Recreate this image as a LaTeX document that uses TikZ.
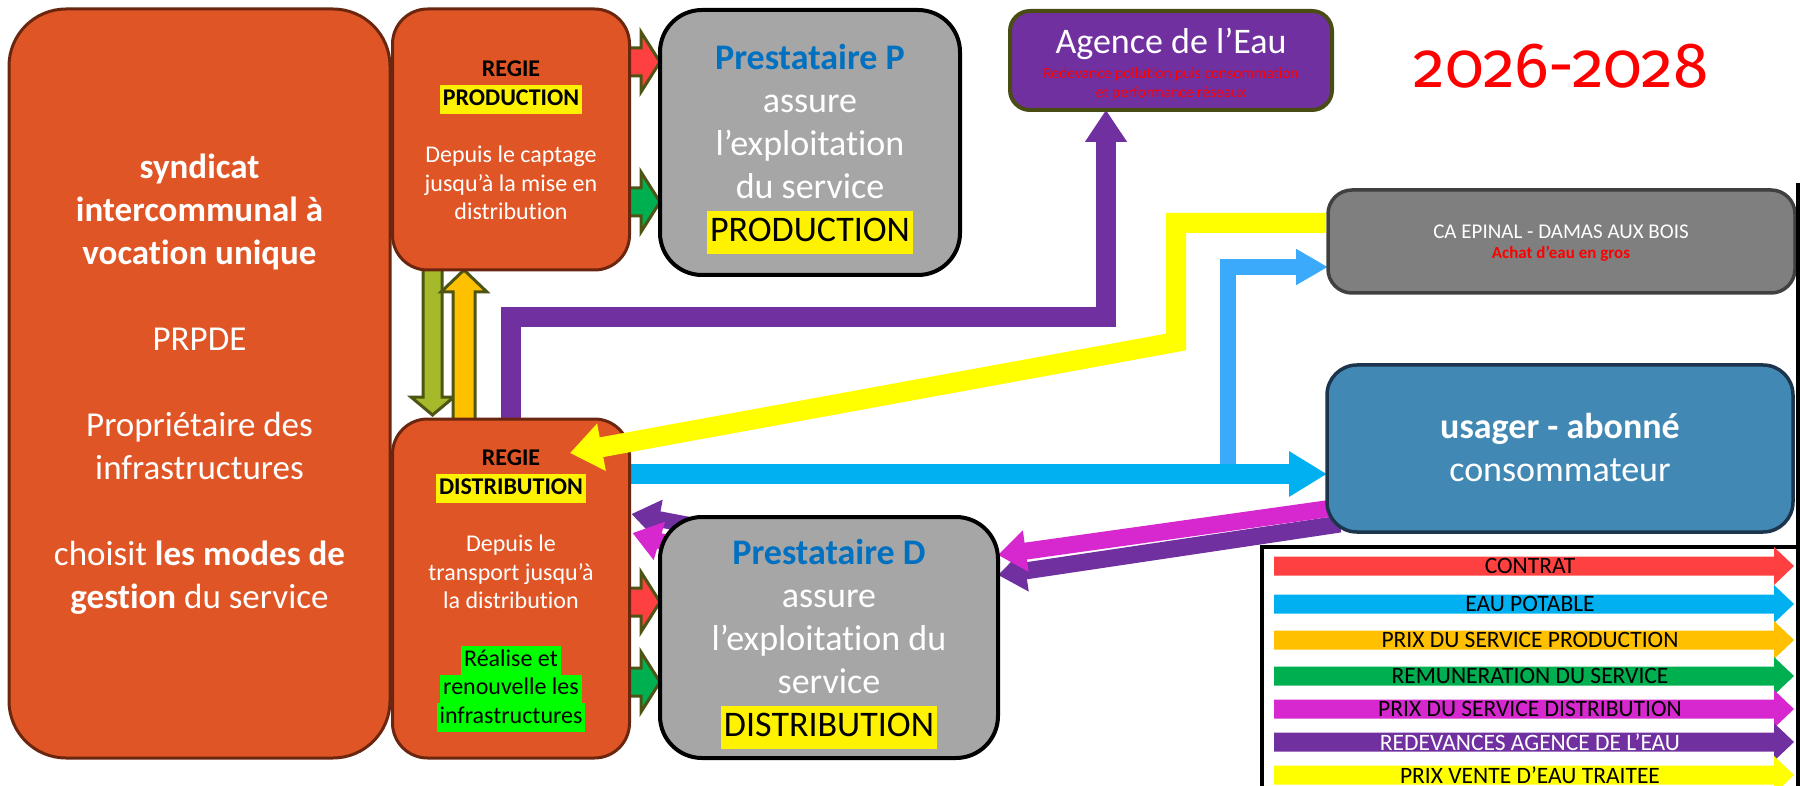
\documentclass[tikz,border=0pt]{standalone}
\usepackage{fontspec}
\setmainfont{Carlito}[Ligatures={TeX,NoCommon}]
\newfontfamily\titlefont{Fira Sans}[Numbers=OldStyle]
\usetikzlibrary{arrows.meta,calc}
\pgfdeclarelayer{bg}
\pgfsetlayers{bg,main}
\definecolor{corange}{RGB}{224,85,38}
\definecolor{cbrown}{RGB}{106,38,14}
\definecolor{cgray}{RGB}{166,166,166}
\definecolor{cpblue}{RGB}{0,112,192}
\definecolor{cpurple}{RGB}{112,48,160}
\definecolor{cagbord}{RGB}{73,77,20}
\definecolor{cca}{RGB}{127,127,127}
\definecolor{ccabord}{RGB}{64,64,64}
\definecolor{cusager}{RGB}{65,137,180}
\definecolor{cusbord}{RGB}{28,52,76}
\definecolor{cred}{RGB}{255,64,64}
\definecolor{cgreen}{RGB}{0,176,80}
\definecolor{ccyan}{RGB}{0,176,240}
\definecolor{clblue}{RGB}{60,170,250}
\definecolor{cyel}{RGB}{255,255,0}
\definecolor{corg}{RGB}{255,192,0}
\definecolor{cmag}{RGB}{214,40,206}
\definecolor{colfill}{RGB}{166,185,42}
\definecolor{coldark}{RGB}{78,84,20}
\definecolor{ctxtred}{RGB}{255,0,0}
\newcommand\hlt[2]{{\setlength{\fboxsep}{1pt}\colorbox{#1}{\hspace{2pt}\rule[\dimexpr-0.3\baselineskip+1pt\relax]{0pt}{\dimexpr\baselineskip-2pt\relax}#2\hspace{2pt}}}}
\newcommand\blockarr[6]{%
  \coordinate (bas) at #2;
  \coordinate (bae) at #3;
  \coordinate (bah) at ($(bae)!#6!(bas)$);
  \path[#1] ($(bas)!#4!90:(bae)$) -- ($(bah)!#4!-90:(bas)$) -- ($(bah)!#5!-90:(bas)$) -- (bae)
    -- ($(bah)!#5!90:(bas)$) -- ($(bah)!#4!90:(bas)$) -- ($(bas)!#4!-90:(bae)$) -- cycle;
}
\begin{document}
\begin{tikzpicture}[x=1pt,y=-1pt,
  box/.style={rectangle,inner sep=0pt,outer sep=0pt},
  orangebox/.style={box,fill=corange,draw=cbrown,line width=3pt},
  graybox/.style={box,fill=cgray,draw=black,line width=4pt,rounded corners=42pt},
  lbl/.style={inner sep=0pt,outer sep=0pt,align=center},
  outl/.style={fill=#1,draw=coldark,line width=3pt,line join=miter},
  flowline/.style={line width=#1,line cap=butt,line join=miter},
  frameline/.style={draw=black,line width=3.5pt},
  legfont/.style={font=\fontsize{23.5}{26}\selectfont}
]
\useasboundingbox (0,0) rectangle (1800,786);

% ---------- boxes
\node[orangebox,rounded corners=57pt,minimum width=381pt,minimum height=749pt] (synd) at (199.5,383.5) {};
\node[orangebox,rounded corners=35pt,minimum width=237pt,minimum height=261pt] (rp) at (511,139.5) {};
\node[orangebox,rounded corners=35pt,minimum width=237pt,minimum height=339pt] (rd) at (511,588.5) {};
\node[graybox,minimum width=300pt,minimum height=265pt] (pp) at (810,142.5) {};
\node[graybox,minimum width=338pt,minimum height=241pt] (pd) at (829,637.5) {};
\node[box,fill=cpurple,draw=cagbord,line width=4pt,rounded corners=20pt,minimum width=322pt,minimum height=99pt] (ag) at (1171,60.5) {};
\node[box,fill=cca,draw=ccabord,line width=3.5pt,rounded corners=24pt,minimum width=467pt,minimum height=103pt] (ca) at (1561.5,241.5) {};
\node[box,fill=cusager,draw=cusbord,line width=3.5pt,rounded corners=30pt,minimum width=466pt,minimum height=167pt] (us) at (1560,448.5) {};

% ---------- connectors under the boxes
\begin{pgfonlayer}{bg}
  \coordinate (pbend) at (1106,317);
  \draw[flowline=20pt,draw=cpurple,-{Triangle[width=40pt,length=32pt]}] (rd.north) |- (pbend) -- ([xshift=-65pt]ag.south);
  \coordinate (lbstart) at (1228,474);
  \draw[flowline=16pt,draw=clblue,-{Triangle[width=34pt,length=32pt]}] (lbstart) |- ([yshift=-25.5pt]ca.west);
  \coordinate (cy0) at ([yshift=114.5pt]rd.east);
  \draw[flowline=20pt,draw=ccyan,-{Triangle[width=43pt,length=38pt]}] (cy0) -- (cy0 -| us.west);
  \draw[flowline=17pt,draw=cpurple,-{Triangle[width=40pt,length=28pt]}] ([xshift=13pt,yshift=-75.5pt]us.west) -- ([yshift=62.5pt]pd.east);
  \draw[flowline=17pt,draw=cmag,-{Triangle[width=40pt,length=28pt]}] ([xshift=13pt,yshift=-58.5pt]us.west) -- ([yshift=82.5pt]pd.east);
  \draw[flowline=16pt,draw=cpurple,-{Triangle[width=38pt,length=28pt]}] ([shift={(40pt,-10pt)}]pd.north west) -- ([xshift=2pt,yshift=74.5pt]rd.east);
  \draw[flowline=16pt,draw=cmag,-{Triangle[width=38pt,length=28pt]}] ([shift={(30pt,-33pt)}]pd.north west) -- ([xshift=3pt,yshift=55.5pt]rd.east);
  % block arrows
  \blockarr{outl=cred}{([xshift=-6pt,yshift=77.5pt]rp.east)}{(pp.west |- bas)}{14pt}{30pt}{19pt}
  \blockarr{outl=cgreen}{([xshift=-6pt,yshift=-62.5pt]rp.east)}{(pp.west |- bas)}{14pt}{30pt}{19pt}
  \blockarr{outl=cred}{([xshift=-6pt,yshift=-13.5pt]rd.east)}{(pd.west |- bas)}{14pt}{30pt}{19pt}
  \blockarr{outl=cgreen}{([xshift=-6pt,yshift=-93.5pt]rd.east)}{(pd.west |- bas)}{14pt}{30pt}{19pt}
  \blockarr{outl=colfill}{([xshift=-78.5pt,yshift=6pt]rp.south)}{([xshift=-78.5pt,yshift=4pt]rd.north)}{9.5pt}{21.5pt}{18pt}
  \blockarr{outl=corg}{([xshift=-47pt,yshift=-6pt]rd.north)}{([xshift=-47pt]rp.south)}{11pt}{23pt}{22pt}
\end{pgfonlayer}

% ---------- yellow connector over the boxes
\coordinate (ybend) at (1176,342);
\draw[flowline=20pt,draw=cyel,-{Triangle[width=46pt,length=32pt]}] ([xshift=-2pt,yshift=18.5pt]ca.west) -| (ybend) -- ([shift={(59pt,135.5pt)}]rd.center);

% ---------- texts
\node[lbl,text=white,font=\fontsize{35}{43}\selectfont] (syndt) at (199.5,384) {%
  \textbf{syndicat}\\ \textbf{intercommunal à}\\ \textbf{vocation unique}\\[43pt]
  PRPDE\\[43pt]
  Propriétaire des\\ infrastructures\\[43pt]
  choisit \textbf{les modes de}\\ \textbf{gestion} du service};
\node[lbl,text=white,font=\fontsize{24}{28.6}\selectfont] (rpt) at (511,140.5) {%
  \textcolor{black}{\textbf{REGIE}}\\ \hlt{yellow}{\textcolor{black}{\textbf{PRODUCTION}}}\\[28.6pt]
  Depuis le captage\\ jusqu’à la mise en\\ distribution};
\node[lbl,text=white,font=\fontsize{24}{28.6}\selectfont] (rdt) at (511,591) {%
  \textcolor{black}{\textbf{REGIE}}\\ \hlt{yellow}{\textcolor{black}{\textbf{DISTRIBUTION}}}\\[28.6pt]
  Depuis le\\ transport jusqu’à\\ la distribution\\[28.6pt]
  \hlt{green}{\textcolor{black}{Réalise et}}\\ \hlt{green}{\textcolor{black}{renouvelle les}}\\ \hlt{green}{\textcolor{black}{infrastructures}}};
\node[lbl,text=white,font=\fontsize{36}{43}\selectfont] (ppt) at (810,149) {%
  \textcolor{cpblue}{\textbf{Prestataire P}}\\ assure\\ l’exploitation\\ du service\\ \hlt{yellow}{\textcolor{black}{PRODUCTION}}};
\node[lbl,text=white,font=\fontsize{36}{43}\selectfont] (pdt) at (829,644) {%
  \textcolor{cpblue}{\textbf{Prestataire D}}\\ assure\\ l’exploitation du\\ service\\ \hlt{yellow}{\textcolor{black}{DISTRIBUTION}}};
\node[lbl,text=white,font=\fontsize{36}{43}\selectfont] (agt) at (1171,44) {Agence de l’Eau};
\node[lbl,text=ctxtred,font=\fontsize{15.5}{19}\selectfont] (agr) at (1171,83.5) {Redevance pollution puis consommation\\ et performance réseaux};
\node[lbl,text=white,font=\fontsize{21}{24}\selectfont] (cat) at (1561,232) {CA EPINAL - DAMAS AUX BOIS};
\node[lbl,text=ctxtred,font=\fontsize{17}{20}\selectfont\bfseries] (car) at (1561,254) {Achat d’eau en gros};
\node[lbl,text=white,font=\fontsize{36}{43}\selectfont] (ust) at (1560,447.5) {\textbf{usager - abonné}\\ consommateur};
\node[lbl,text=ctxtred,font=\titlefont\fontsize{64}{74}\selectfont] (ttl) at (1561,66) {2026-2028};

% ---------- legend
\draw[frameline] (1262,790) |- (1798,547);
\draw[frameline] (1798,183) -- (1798,790);
\foreach \yy/\cc/\lt/\tc [count=\i] in {566/cred/CONTRAT/black,
    604/ccyan/EAU POTABLE/black,
    640/corg/PRIX DU SERVICE PRODUCTION/black,
    676/cgreen/REMUNERATION DU SERVICE/black,
    709/cmag/PRIX DU SERVICE DISTRIBUTION/black,
    742/cpurple/REDEVANCES AGENCE DE L’EAU/white,
    775/cyel/PRIX VENTE D’EAU TRAITEE/black} {
  \blockarr{fill=\cc}{(1274,\yy)}{(1794,\yy)}{9.5pt}{19pt}{20pt}
  \node[lbl,legfont,text=\tc] (leg\i) at (1530,\yy) {\lt};
}
\end{tikzpicture}
\end{document}
